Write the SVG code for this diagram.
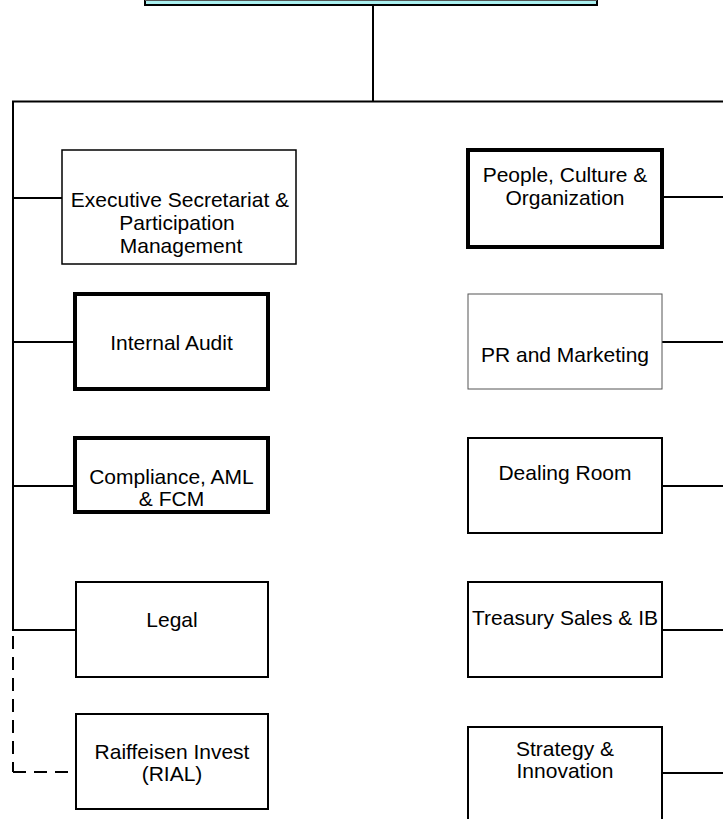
<svg xmlns="http://www.w3.org/2000/svg" width="723" height="819" viewBox="0 0 723 819">
<style>
text{font-family:"Liberation Sans",Arial,sans-serif;font-size:21px;fill:#000;text-anchor:middle}
.b{fill:#fff;stroke:#000}
.thin{stroke-width:1.5}
.thick{stroke-width:4}
.c{stroke:#000;stroke-width:2;fill:none}
.d{stroke:#000;stroke-width:2;fill:none;stroke-dasharray:13 8}
</style>
<rect width="723" height="819" fill="#fff"/>
<g id="connectors">
<line class="c" x1="373" y1="5" x2="373" y2="101.5"/>
<line class="c" x1="12" y1="101.5" x2="723" y2="101.5"/>
<line class="c" x1="13" y1="101" x2="13" y2="631"/>
<line class="d" x1="13" y1="636" x2="13" y2="772"/>
<line class="d" x1="13" y1="772" x2="76" y2="772"/>
<line class="c" x1="13" y1="198" x2="62" y2="198"/>
<line class="c" x1="13" y1="342" x2="75" y2="342"/>
<line class="c" x1="13" y1="486" x2="75" y2="486"/>
<line class="c" x1="13" y1="630" x2="76" y2="630"/>
<line class="c" x1="662" y1="197" x2="723" y2="197"/>
<line class="c" x1="662" y1="342" x2="723" y2="342"/>
<line class="c" x1="662" y1="486" x2="723" y2="486"/>
<line class="c" x1="662" y1="630" x2="723" y2="630"/>
<line class="c" x1="662" y1="773" x2="723" y2="773"/>
</g>
<g id="top">
<rect x="145" y="-40" width="452" height="45" fill="#aaf0f0" stroke="#000" stroke-width="2"/>
<line x1="145" y1="0.5" x2="597" y2="0.5" stroke="#555" stroke-width="1"/>
</g>
<g id="exec">
<rect class="b thin" x="62" y="150" width="234" height="114"/>
<text x="180" y="207">Executive Secretariat &amp;</text>
<text x="177" y="230">Participation</text>
<text x="181" y="253">Management</text>
</g>
<g id="audit">
<rect class="b thick" x="75" y="294" width="193" height="95"/>
<text x="171.5" y="350">Internal Audit</text>
</g>
<g id="compliance">
<rect class="b thick" x="75" y="438" width="193" height="74"/>
<text x="171.5" y="484">Compliance, AML</text>
<text x="171.5" y="506">&amp; FCM</text>
</g>
<g id="legal">
<rect class="b" stroke-width="2" x="76" y="582" width="192" height="95"/>
<text x="172" y="627">Legal</text>
</g>
<g id="rial">
<rect class="b" stroke-width="2" x="76" y="714" width="192" height="95"/>
<text x="172" y="759">Raiffeisen Invest</text>
<text x="172" y="781">(RIAL)</text>
</g>
<g id="people">
<rect class="b thick" x="468" y="150" width="194" height="97"/>
<text x="565" y="182">People, Culture &amp;</text>
<text x="565" y="205">Organization</text>
</g>
<g id="pr">
<rect x="468" y="294" width="194" height="95" fill="#fff" stroke="#555" stroke-width="1"/>
<text x="565" y="362">PR and Marketing</text>
</g>
<g id="dealing">
<rect class="b" stroke-width="2" x="468" y="438" width="194" height="95"/>
<text x="565" y="480">Dealing Room</text>
</g>
<g id="treasury">
<rect class="b" stroke-width="2" x="468" y="582" width="194" height="95"/>
<text x="565" y="625">Treasury Sales &amp; IB</text>
</g>
<g id="strategy">
<rect class="b" stroke-width="2" x="468" y="727" width="194" height="100"/>
<text x="565" y="756">Strategy &amp;</text>
<text x="565" y="778">Innovation</text>
</g>
</svg>
